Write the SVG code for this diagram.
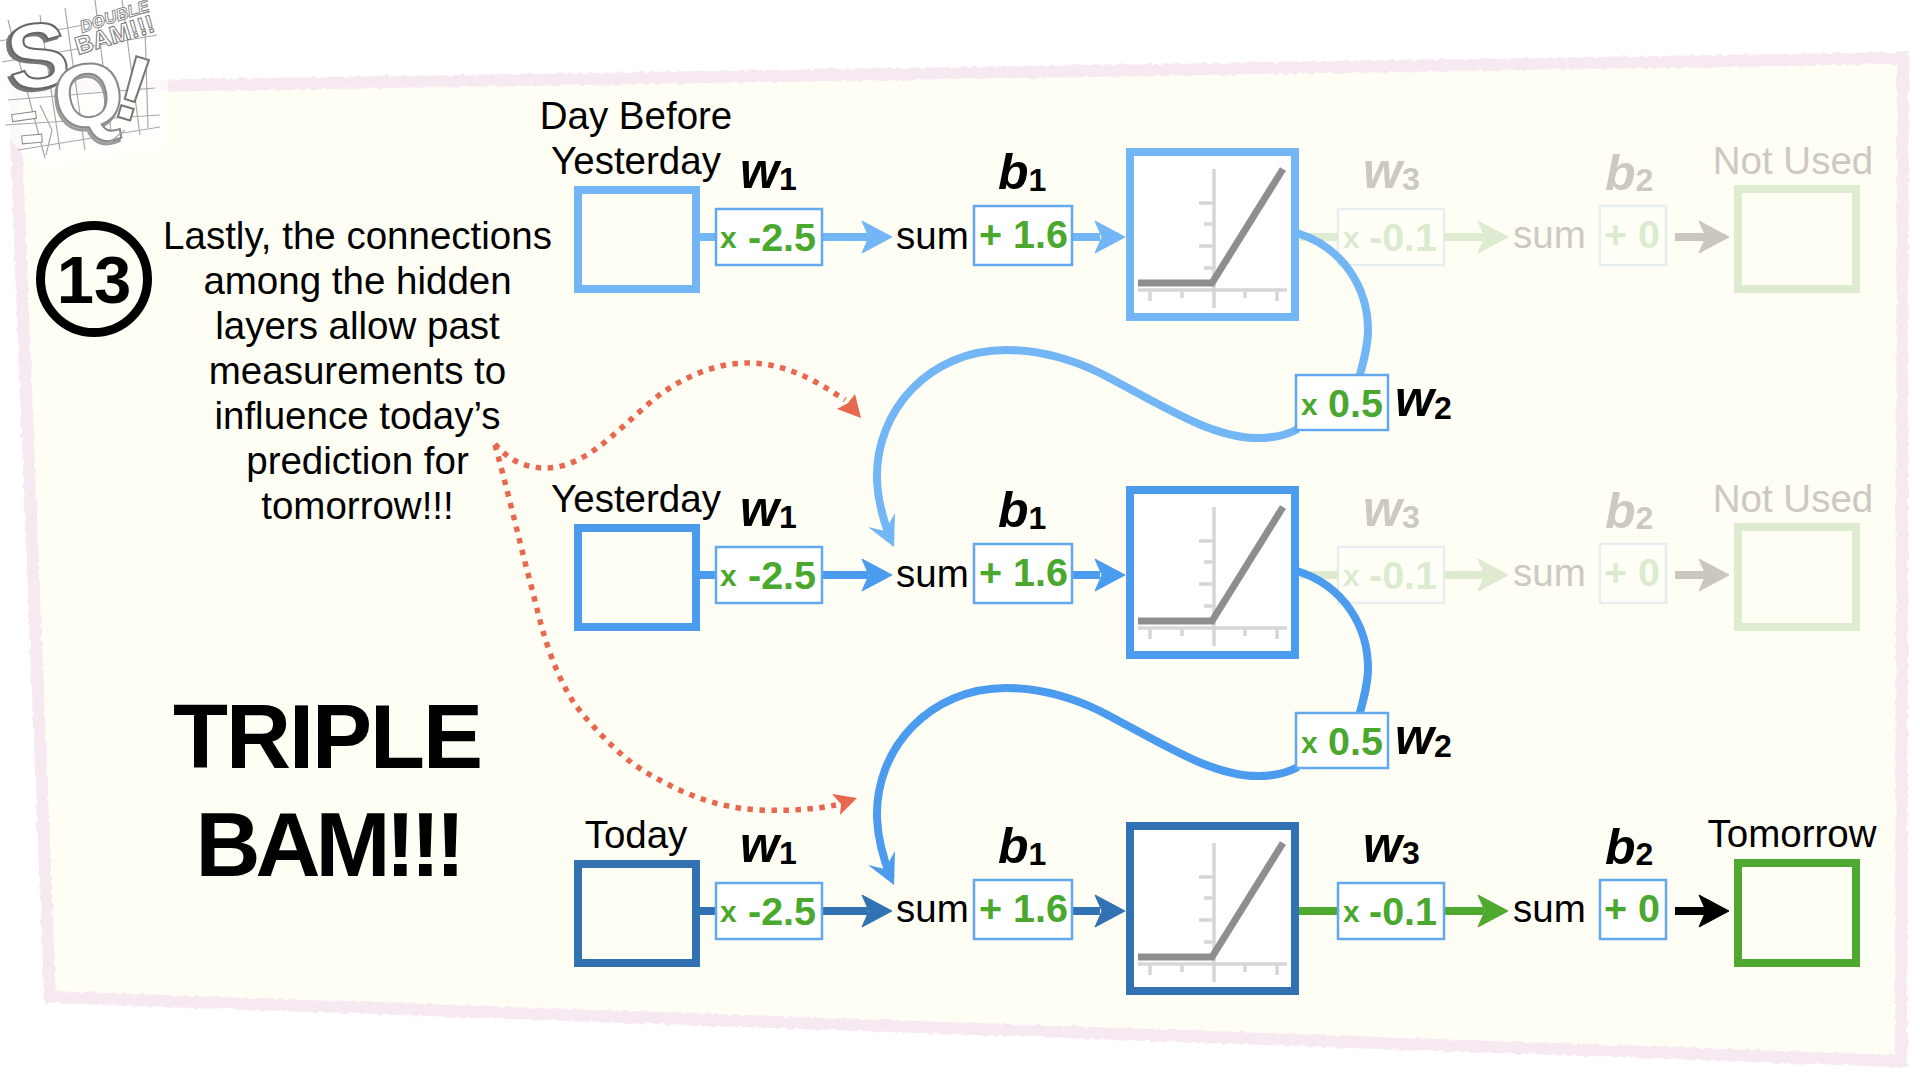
<svg xmlns="http://www.w3.org/2000/svg" width="1920" height="1080" viewBox="0 0 1920 1080">
<style>
text{font-family:"Liberation Sans",Arial,Helvetica,sans-serif;fill:#000}
.t{font-size:38.5px}
.m{text-anchor:middle}
.g{font-weight:bold;fill:#4aa82e;font-size:39.5px}
.x{font-weight:bold;fill:#4aa82e;font-size:30px}
.lab{font-weight:bold;font-style:italic;font-size:50px}
.sub{font-weight:bold;font-size:32px;font-style:normal}
.box{fill:#fff;stroke:#62a8ee;stroke-width:2.5}
.fade text{fill:#ccc9c2}
.fade .g,.fade .x{fill:#dcebcf}
.fade .box{fill:#fffff8;stroke:#e6eef0}
.fadeout{fill:none;stroke:#deebd0;stroke-width:8}
.inp{fill:none;stroke-width:8}
.act{fill:#fff;stroke-width:8}
.ax{stroke:#d6d6d6;stroke-width:3.5;fill:none}
.rl{stroke:#8e8e8e;stroke-width:7;fill:none;stroke-linejoin:miter}
.ln{fill:none;stroke-width:8}
.cv{fill:none;stroke-width:8}
.dot{fill:none;stroke:#e8674f;stroke-width:5.5;stroke-dasharray:5.5 6.5}
.gr{stroke:#a8a8a8;stroke-width:1.2;fill:none}
.lg{fill:#fff;stroke:#888;stroke-width:1}
.big{font-size:90px;font-weight:bold;text-anchor:middle}
</style>
<defs>
<polygon id="ah" points="-30,-16 0,0 -30,16 -23,0"/>
<g id="plot">
<path class="ax" d="M1138 290H1287M1214 169V308M1199 203H1214M1204 224H1214M1199 246H1214M1204 268H1214M1150 290V301M1182 290V298M1245 290V298M1277 290V301"/>
<path class="rl" d="M1138 283H1212L1283 169"/>
</g>
<filter id="rough" x="-2%" y="-2%" width="104%" height="104%">
<feTurbulence type="fractalNoise" baseFrequency="0.18" numOctaves="2" seed="4"/>
<feDisplacementMap in="SourceGraphic" scale="5" xChannelSelector="R" yChannelSelector="G"/>
</filter>
</defs>
<rect width="1920" height="1080" fill="#fff"/>
<polygon points="14,88 1903,58 1901,1061 50,997" fill="#fffef4" stroke="#f6e9f1" stroke-width="12" filter="url(#rough)"/>

<g id="logo">
<polygon points="0,0 168,0 168,150 40,170 0,130" fill="#fff" opacity="0.72"/>
<path class="gr" d="M0 41L150 12M2 62L157 35M8 100L155 88M5 125L160 115M18 150L160 127M8 20L45 158M40 15L60 150M65 8L85 150M95 0L112 140M122 0L140 135M145 28L148 128"/>
<g transform="rotate(-8 35 55)"><text x="3" y="90" font-size="92" font-weight="bold" style="fill:#777;stroke:#777;stroke-width:2">S</text><text x="7" y="88" font-size="92" font-weight="bold" style="fill:#fff;stroke:#666;stroke-width:2">S</text></g>
<g transform="rotate(-10 85 100)"><text x="52" y="130" font-size="90" font-weight="bold" style="fill:#aaa;stroke:#999;stroke-width:2">Q</text><text x="54" y="127" font-size="90" font-weight="bold" style="fill:#fff;stroke:#8a8a8a;stroke-width:2">Q</text></g>
<g transform="rotate(17 140 90)"><text x="118" y="122" font-size="92" font-weight="bold" style="fill:#fff;stroke:#777;stroke-width:2">!</text></g>
<text transform="translate(82 33) rotate(-18)" font-size="17" font-weight="bold" font-style="italic" style="fill:#fff;stroke:#777;stroke-width:.8">DOUBLE</text>
<text transform="translate(78 55) rotate(-17)" font-size="25" font-weight="bold" style="fill:#fff;stroke:#777;stroke-width:1">BAM!!!</text>
<rect class="lg" x="12" y="113" width="24" height="7" transform="rotate(-8 24 116)"/>
<rect class="lg" x="22" y="135" width="20" height="8" transform="rotate(-5 32 139)"/>
<path class="gr" d="M40 105L52 130L46 155M106 145L125 130"/>
</g>

<g id="step">
<circle cx="94" cy="279" r="53.5" fill="none" stroke="#000" stroke-width="9"/>
<text x="94" y="303" class="m" font-size="67" font-weight="bold">13</text>
</g>
<g id="caption">
<text x="357.5" y="249" class="t m">Lastly, the connections</text>
<text x="357.5" y="294" class="t m">among the hidden</text>
<text x="357.5" y="339" class="t m">layers allow past</text>
<text x="357.5" y="384" class="t m">measurements to</text>
<text x="357.5" y="429" class="t m">influence today’s</text>
<text x="357.5" y="474" class="t m">prediction for</text>
<text x="357.5" y="519" class="t m">tomorrow!!!</text>
</g>
<g id="bam">
<text x="327" y="768" class="big" letter-spacing="-2">TRIPLE</text>
<text x="328" y="876" class="big" letter-spacing="-5">BAM!!!</text>
</g>

<!-- faded nodes, rows 1 and 2 -->
<g id="w3-1" class="fade"><text x="1363" y="188" class="lab">w<tspan class="sub" dy="2">3</tspan></text><rect class="box" x="1338" y="209" width="106" height="56"/><text x="1343" y="248" class="x">x</text><text x="1369" y="251" class="g">-0.1</text></g>
<g id="sum2-1" class="fade"><text x="1513" y="248" class="t">sum</text></g>
<g id="b2-1" class="fade"><text x="1605" y="190" class="lab">b<tspan class="sub" dy="1">2</tspan></text><rect class="box" x="1600" y="206" width="66" height="59"/><text x="1604" y="248" class="g">+ 0</text></g>
<g id="out-1" class="fade"><text x="1793" y="174" class="t m">Not Used</text><rect class="fadeout" x="1738" y="189" width="118" height="100"/></g>
<g id="w3-2" class="fade" transform="translate(0 338)"><text x="1363" y="188" class="lab">w<tspan class="sub" dy="2">3</tspan></text><rect class="box" x="1338" y="209" width="106" height="56"/><text x="1343" y="248" class="x">x</text><text x="1369" y="251" class="g">-0.1</text></g>
<g id="sum2-2" class="fade" transform="translate(0 338)"><text x="1513" y="248" class="t">sum</text></g>
<g id="b2-2" class="fade" transform="translate(0 338)"><text x="1605" y="190" class="lab">b<tspan class="sub" dy="1">2</tspan></text><rect class="box" x="1600" y="206" width="66" height="59"/><text x="1604" y="248" class="g">+ 0</text></g>
<g id="out-2" class="fade" transform="translate(0 338)"><text x="1793" y="174" class="t m">Not Used</text><rect class="fadeout" x="1738" y="189" width="118" height="100"/></g>

<g id="connectors">
<!-- faded row connectors -->
<g stroke="#deebd0" fill="#deebd0"><path class="ln" d="M1300 237H1338M1444 237H1484"/><use href="#ah" x="1508" y="237"/></g>
<g stroke="#c9c7bf" fill="#c9c7bf"><path class="ln" d="M1675 237H1706"/><use href="#ah" x="1729" y="237"/></g>
<g transform="translate(0 338)"><g stroke="#deebd0" fill="#deebd0"><path class="ln" d="M1300 237H1338M1444 237H1484"/><use href="#ah" x="1508" y="237"/></g>
<g stroke="#c9c7bf" fill="#c9c7bf"><path class="ln" d="M1675 237H1706"/><use href="#ah" x="1729" y="237"/></g></g>
<!-- row 1 -->
<g stroke="#72b6f5" fill="#72b6f5">
<path class="ln" d="M700 237H715M822 237H868M1072 237H1100"/>
<use href="#ah" x="892" y="237"/><use href="#ah" x="1125" y="237"/>
<path class="cv" d="M1297 233C1345 248 1368 290 1368 330C1368 345 1364 360 1359 378M1298 429C1285 436 1272 438 1258 438C1210 438 1160 404 1100 373C1065 356 1035 350 1006 350C930 350 875 410 877 480C878 505 885 525 891 540"/>
<polygon points="894,547 868,527 885,531 895,513" stroke="none"/>
</g>
<!-- row 2 -->
<g stroke="#4b9bef" fill="#4b9bef" transform="translate(0 338)">
<path class="ln" d="M700 237H715M822 237H868M1072 237H1100"/>
<use href="#ah" x="892" y="237"/><use href="#ah" x="1125" y="237"/>
<path class="cv" d="M1297 233C1345 248 1368 290 1368 330C1368 345 1364 360 1359 378M1298 429C1285 436 1272 438 1258 438C1210 438 1160 404 1100 373C1065 356 1035 350 1006 350C930 350 875 410 877 480C878 505 885 525 891 540"/>
<polygon points="894,547 868,527 885,531 895,513" stroke="none"/>
</g>
<!-- row 3 -->
<g stroke="#3272b3" fill="#3272b3" transform="translate(0 674)">
<path class="ln" d="M700 237H715M822 237H868M1072 237H1100"/>
<use href="#ah" x="892" y="237"/><use href="#ah" x="1125" y="237"/>
</g>
<g stroke="#4fa82f" fill="#4fa82f" transform="translate(0 674)">
<path class="ln" d="M1299 237H1338M1444 237H1484"/>
<use href="#ah" x="1508" y="237"/>
</g>
<g stroke="#000" fill="#000" transform="translate(0 674)">
<path class="ln" d="M1675 237H1706"/>
<use href="#ah" x="1729" y="237"/>
</g>
<!-- dotted callouts -->
<path class="dot" d="M495 444C510 462 528 468 545 468C585 468 615 432 653 400C680 378 715 363 747 363C785 363 815 380 845 400"/>
<polygon points="861,418 837,409 848,403 855,394" fill="#e8674f"/>
<path class="dot" d="M495 445C505 480 518 535 527 570C536 603 540 625 550 653C560 680 570 700 585 717C605 740 625 760 647 773C680 792 715 808 760 810C785 811 810 810 836 805"/>
<polygon points="857,798 832,794 841,804 840,815" fill="#e8674f"/>
</g>

<!-- row 1 nodes -->
<g id="input-1"><text x="636" y="129" class="t m">Day Before</text><text x="636" y="174" class="t m">Yesterday</text><rect class="inp" stroke="#72b6f5" x="578" y="190" width="118" height="99"/></g>
<g id="w1-1"><text x="740" y="188" class="lab">w<tspan class="sub" dy="2">1</tspan></text><rect class="box" x="716" y="209" width="106" height="56"/><text x="720" y="248" class="x">x</text><text x="748" y="251" class="g">-2.5</text></g>
<g id="sum-1"><text x="896" y="249" class="t">sum</text></g>
<g id="b1-1"><text x="998" y="189" class="lab">b<tspan class="sub" dy="2">1</tspan></text><rect class="box" x="974" y="206" width="98" height="59"/><text x="979" y="248" class="g">+ 1.6</text></g>
<g id="act-1"><rect class="act" stroke="#72b6f5" x="1130" y="152" width="165" height="165"/><use href="#plot"/></g>
<g id="w2-1"><rect class="box" x="1296" y="375" width="92" height="55"/><text x="1301" y="415" class="x">x</text><text x="1328" y="417" class="g">0.5</text><text x="1395" y="416" class="lab">w<tspan class="sub" dy="3">2</tspan></text></g>

<!-- row 2 nodes -->
<g id="input-2" transform="translate(0 338)"><text x="636" y="174" class="t m">Yesterday</text><rect class="inp" stroke="#4b9bef" x="578" y="190" width="118" height="99"/></g>
<g id="w1-2" transform="translate(0 338)"><text x="740" y="188" class="lab">w<tspan class="sub" dy="2">1</tspan></text><rect class="box" x="716" y="209" width="106" height="56"/><text x="720" y="248" class="x">x</text><text x="748" y="251" class="g">-2.5</text></g>
<g id="sum-2" transform="translate(0 338)"><text x="896" y="249" class="t">sum</text></g>
<g id="b1-2" transform="translate(0 338)"><text x="998" y="189" class="lab">b<tspan class="sub" dy="2">1</tspan></text><rect class="box" x="974" y="206" width="98" height="59"/><text x="979" y="248" class="g">+ 1.6</text></g>
<g id="act-2" transform="translate(0 338)"><rect class="act" stroke="#4b9bef" x="1130" y="152" width="165" height="165"/><use href="#plot"/></g>
<g id="w2-2" transform="translate(0 338)"><rect class="box" x="1296" y="375" width="92" height="55"/><text x="1301" y="415" class="x">x</text><text x="1328" y="417" class="g">0.5</text><text x="1395" y="416" class="lab">w<tspan class="sub" dy="3">2</tspan></text></g>

<!-- row 3 nodes -->
<g id="input-3" transform="translate(0 674)"><text x="636" y="174" class="t m">Today</text><rect class="inp" stroke="#3272b3" x="578" y="190" width="118" height="99"/></g>
<g id="w1-3" transform="translate(0 674)"><text x="740" y="188" class="lab">w<tspan class="sub" dy="2">1</tspan></text><rect class="box" x="716" y="209" width="106" height="56"/><text x="720" y="248" class="x">x</text><text x="748" y="251" class="g">-2.5</text></g>
<g id="sum-3" transform="translate(0 674)"><text x="896" y="248" class="t">sum</text></g>
<g id="b1-3" transform="translate(0 674)"><text x="998" y="189" class="lab">b<tspan class="sub" dy="2">1</tspan></text><rect class="box" x="974" y="206" width="98" height="59"/><text x="979" y="248" class="g">+ 1.6</text></g>
<g id="act-3" transform="translate(0 674)"><rect class="act" stroke="#3272b3" x="1130" y="152" width="165" height="165"/><use href="#plot"/></g>
<g id="w3-3" transform="translate(0 674)"><text x="1363" y="188" class="lab">w<tspan class="sub" dy="2">3</tspan></text><rect class="box" x="1338" y="209" width="106" height="56"/><text x="1343" y="248" class="x">x</text><text x="1369" y="251" class="g">-0.1</text></g>
<g id="sum2-3" transform="translate(0 674)"><text x="1513" y="248" class="t">sum</text></g>
<g id="b2-3" transform="translate(0 674)"><text x="1605" y="190" class="lab">b<tspan class="sub" dy="1">2</tspan></text><rect class="box" x="1600" y="206" width="66" height="59"/><text x="1604" y="248" class="g">+ 0</text></g>
<g id="out-3" transform="translate(0 674)"><text x="1792" y="173" class="t m">Tomorrow</text><rect class="inp" stroke="#4fa82f" x="1738" y="189" width="118" height="100"/></g>
</svg>
